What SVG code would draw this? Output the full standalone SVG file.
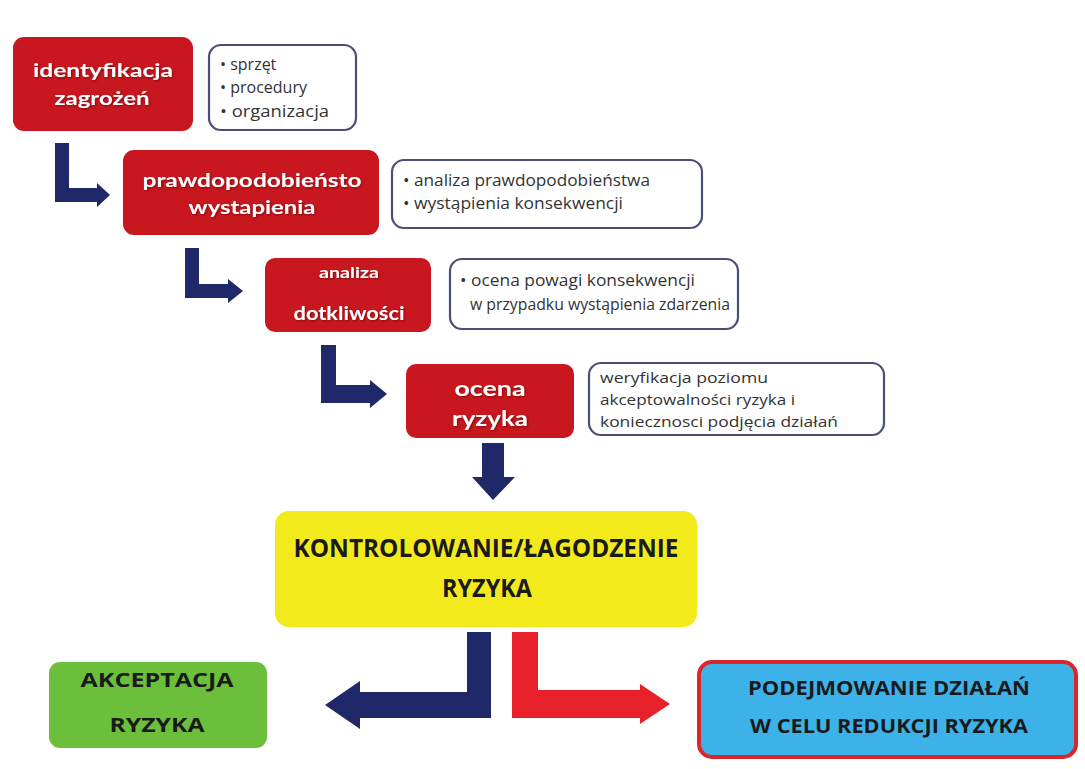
<svg xmlns="http://www.w3.org/2000/svg" width="1085" height="769" viewBox="0 0 1085 769">
<defs>
<style>
.red{fill:#c8171e;}
.info{fill:#ffffff;stroke:#4b4f78;stroke-width:2.2;}
.wt{font-family:"Lato","Open Sans",sans-serif;font-weight:bold;fill:#ffffff;text-anchor:middle;}
.it{font-family:"Open Sans","Lato",sans-serif;fill:#333333;}
.bt{font-family:"Open Sans","Liberation Sans",sans-serif;font-weight:bold;fill:#1a1a1a;text-anchor:middle;}
.navy{fill:#1f2868;}
.rarr{fill:#e8202a;}
</style>
<filter id="sh" x="-5%" y="-5%" width="110%" height="115%">
<feDropShadow dx="1" dy="1" stdDeviation="0.8" flood-color="#5a0000" flood-opacity="0.6"/>
</filter>
</defs>
<rect width="1085" height="769" fill="#ffffff"/>

<g id="connectors">
<polygon class="navy" points="55,143 69,143 69,188 97,188 97,183 110,195 97,207 97,202 55,202"/>
<polygon class="navy" points="185,248 199,248 199,284 228,284 228,279 243,291 228,303 228,298 185,298"/>
<polygon class="navy" points="321,345 336,345 336,385 370,385 370,380 387,394 370,408 370,403 321,403"/>
<polygon class="navy" points="482,443 504,443 504,477 515,477 493,500 472,477 482,477"/>
<polygon class="navy" points="467,632 491,632 491,718 360,718 360,729 325,705 360,681 360,692 467,692"/>
<polygon class="rarr" points="512,632 538,632 538,690 640,690 640,684 670,704 640,724 640,718 512,718"/>
</g>

<g id="n1">
<rect class="red" x="13" y="37" width="180" height="94" rx="11"/>
<text class="wt" x="103" y="77" font-size="18" textLength="140" lengthAdjust="spacingAndGlyphs" filter="url(#sh)">identyfikacja</text>
<text class="wt" x="102" y="105" font-size="18" textLength="95" lengthAdjust="spacingAndGlyphs" filter="url(#sh)">zagrożeń</text>
</g>
<g id="i1">
<rect class="info" x="209" y="45" width="147" height="85" rx="12"/>
<text class="it" x="220" y="70" font-size="16">• sprzęt</text>
<text class="it" x="220" y="93" font-size="16">• procedury</text>
<text class="it" x="220" y="117" font-size="16" textLength="109" lengthAdjust="spacingAndGlyphs">• organizacja</text>
</g>

<g id="n2">
<rect class="red" x="123" y="150" width="256" height="85" rx="11"/>
<text class="wt" x="252" y="187" font-size="19" textLength="219" lengthAdjust="spacingAndGlyphs" filter="url(#sh)">prawdopodobieństo</text>
<text class="wt" x="252" y="214" font-size="19" textLength="127" lengthAdjust="spacingAndGlyphs" filter="url(#sh)">wystapienia</text>
</g>
<g id="i2">
<rect class="info" x="392" y="160" width="310" height="68" rx="12"/>
<text class="it" x="403" y="186" font-size="15.5" textLength="247" lengthAdjust="spacingAndGlyphs">• analiza prawdopodobieństwa</text>
<text class="it" x="403" y="209" font-size="15.5" textLength="220" lengthAdjust="spacingAndGlyphs">• wystąpienia konsekwencji</text>
</g>

<g id="n3">
<rect class="red" x="265" y="258" width="166" height="74" rx="10"/>
<text class="wt" x="349" y="278" font-size="16" textLength="60" lengthAdjust="spacingAndGlyphs" filter="url(#sh)">analiza</text>
<text class="wt" x="349" y="320" font-size="19" textLength="111" lengthAdjust="spacingAndGlyphs" filter="url(#sh)">dotkliwości</text>
</g>
<g id="i3">
<rect class="info" x="450" y="259" width="288" height="70" rx="12"/>
<text class="it" x="460" y="286" font-size="15.5" textLength="235" lengthAdjust="spacingAndGlyphs">• ocena powagi konsekwencji</text>
<text class="it" x="470" y="310" font-size="15.5" textLength="260" lengthAdjust="spacingAndGlyphs">w przypadku  wystąpienia zdarzenia</text>
</g>

<g id="n4">
<rect class="red" x="406" y="364" width="168" height="74" rx="10"/>
<text class="wt" x="490" y="396" font-size="21" textLength="71" lengthAdjust="spacingAndGlyphs" filter="url(#sh)">ocena</text>
<text class="wt" x="490" y="426" font-size="21" textLength="76" lengthAdjust="spacingAndGlyphs" filter="url(#sh)">ryzyka</text>
</g>
<g id="i4">
<rect class="info" x="589" y="363" width="295" height="72" rx="12"/>
<text class="it" x="600" y="383" font-size="14.5" textLength="168" lengthAdjust="spacingAndGlyphs">weryfikacja  poziomu</text>
<text class="it" x="600" y="405" font-size="14.5" textLength="195" lengthAdjust="spacingAndGlyphs">akceptowalności ryzyka i</text>
<text class="it" x="600" y="427" font-size="14.5" textLength="238" lengthAdjust="spacingAndGlyphs">koniecznosci podjęcia działań</text>
</g>

<g id="n5">
<rect x="275" y="511" width="422" height="116" rx="14" fill="#f3ea1c"/>
<text class="bt" x="486" y="557" font-size="25" textLength="385" lengthAdjust="spacingAndGlyphs">KONTROLOWANIE/ŁAGODZENIE</text>
<text class="bt" x="487" y="597" font-size="25" textLength="90" lengthAdjust="spacingAndGlyphs">RYZYKA</text>
</g>

<g id="n6">
<rect x="49" y="662" width="218" height="86" rx="11" fill="#6cbf3b"/>
<text class="bt" x="157" y="687" font-size="20" textLength="153" lengthAdjust="spacingAndGlyphs">AKCEPTACJA</text>
<text class="bt" x="157" y="732" font-size="20" textLength="95" lengthAdjust="spacingAndGlyphs">RYZYKA</text>
</g>

<g id="n7">
<rect x="699" y="662" width="377" height="95" rx="13" fill="#3db2e8" stroke="#d8262a" stroke-width="4"/>
<text class="bt" x="889" y="695" font-size="20" textLength="282" lengthAdjust="spacingAndGlyphs">PODEJMOWANIE DZIAŁAŃ</text>
<text class="bt" x="889" y="733" font-size="20" textLength="278" lengthAdjust="spacingAndGlyphs">W CELU REDUKCJI RYZYKA</text>
</g>
</svg>
